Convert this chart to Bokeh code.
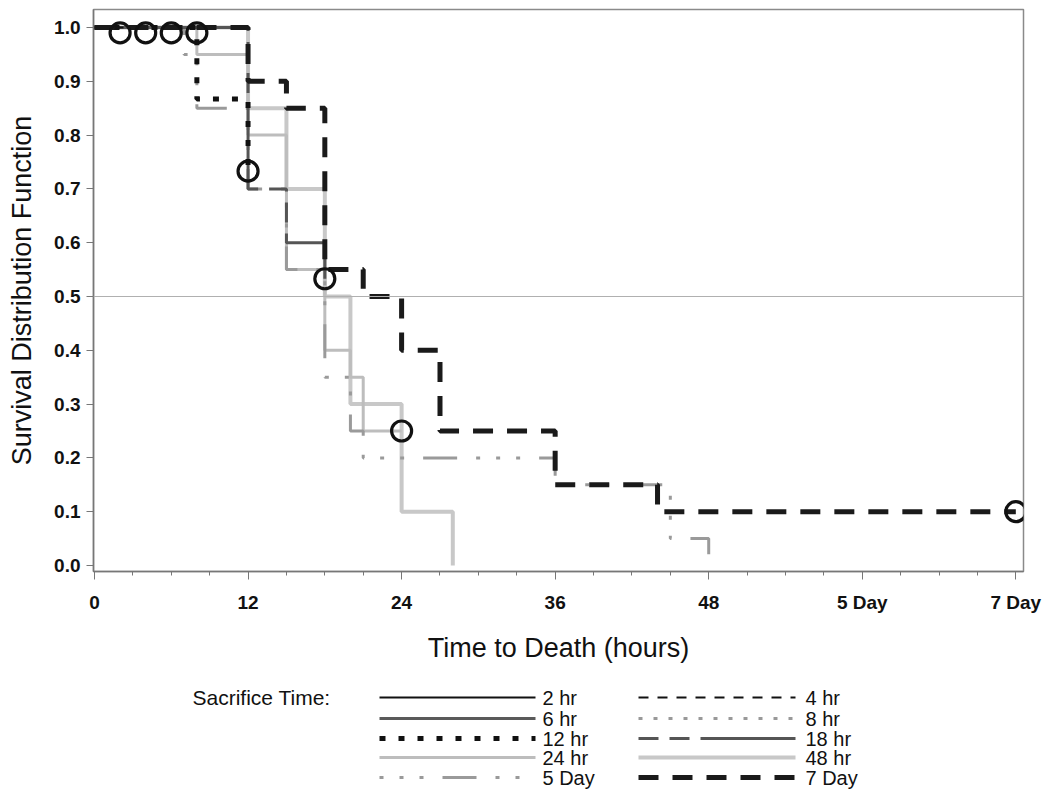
from bokeh.plotting import figure
from bokeh.models import FixedTicker, Span, PrintfTickFormatter
from bokeh.layouts import column
from bokeh.core.properties import value
from bokeh.embed import file_html
from bokeh.resources import INLINE

# ---------------- data ----------------
# x axis positions: hours up to 48; positions 60 / 72 stand for "5 Day" / "7 Day"
x_ticks = [0, 12, 24, 36, 48, 60, 72]
x_tick_labels = ["0", "12", "24", "36", "48", "5 Day", "7 Day"]
x_minor = [0, 3, 6, 9, 12, 15, 18, 21, 24, 27, 30, 33, 36, 39, 42, 45, 48,
           51, 54, 57, 60, 63, 66, 69, 72]
y_ticks = [0.0, 0.1, 0.2, 0.3, 0.4, 0.5, 0.6, 0.7, 0.8, 0.9, 1.0]

groups = ["2 hr", "4 hr", "6 hr", "8 hr", "12 hr", "18 hr", "24 hr", "48 hr", "5 Day", "7 Day"]

t_2hr = [0, 2]
s_2hr = [1.0, 1.0]
t_4hr = [0, 4]
s_4hr = [1.0, 1.0]
t_6hr = [0, 6]
s_6hr = [1.0, 1.0]
t_8hr = [0, 8]
s_8hr = [1.0, 1.0]
t_12hr = [0, 8, 12]
s_12hr = [1.0, 0.867, 0.733]
t_18hr = [0, 12, 15, 18]
s_18hr = [1.0, 0.7, 0.6, 0.533]
t_24hr = [0, 8, 12, 15, 18, 20, 21, 24]
s_24hr = [1.0, 0.95, 0.8, 0.55, 0.4, 0.35, 0.25, 0.25]
t_48hr = [0, 12, 15, 18, 20, 24, 28]
s_48hr = [1.0, 0.85, 0.7, 0.5, 0.3, 0.1, 0.0]
t_5day = [0, 7, 8, 12, 15, 18, 20, 21, 36, 45, 48]
s_5day = [1.0, 0.95, 0.85, 0.7, 0.55, 0.35, 0.25, 0.2, 0.15, 0.05, 0.0]
t_7day = [0, 12, 15, 18, 21, 24, 27, 36, 44, 72]
s_7day = [1.0, 0.9, 0.85, 0.55, 0.5, 0.4, 0.25, 0.15, 0.1, 0.1]

# censored observations (open circles)
cens_t = [2, 4, 6, 8, 12, 18, 24, 72]
cens_s = [0.99, 0.99, 0.99, 0.99, 0.733, 0.533, 0.25, 0.1]

series = {
    "2 hr": (t_2hr, s_2hr), "4 hr": (t_4hr, s_4hr), "6 hr": (t_6hr, s_6hr),
    "8 hr": (t_8hr, s_8hr), "12 hr": (t_12hr, s_12hr), "18 hr": (t_18hr, s_18hr),
    "24 hr": (t_24hr, s_24hr), "48 hr": (t_48hr, s_48hr), "5 Day": (t_5day, s_5day),
    "7 Day": (t_7day, s_7day),
}

# ---------------- styles ----------------
styles = {
    "2 hr":  dict(line_color="#111111", line_width=2, line_dash="solid"),
    "4 hr":  dict(line_color="#111111", line_width=2, line_dash="10 9"),
    "6 hr":  dict(line_color="#5a5a5a", line_width=3, line_dash="solid"),
    "8 hr":  dict(line_color="#999999", line_width=3, line_dash="4 11"),
    "12 hr": dict(line_color="#111111", line_width=5, line_dash="6 13"),
    "18 hr": dict(line_color="#555555", line_width=3, line_dash="20 11 20 11 95 11"),
    "24 hr": dict(line_color="#bdbdbd", line_width=3, line_dash="solid"),
    "48 hr": dict(line_color="#c8c8c8", line_width=4, line_dash="solid"),
    "5 Day": dict(line_color="#9a9a9a", line_width=3, line_dash="4 16 4 16 4 19 34 19"),
    "7 Day": dict(line_color="#1a1a1a", line_width=5, line_dash="20 14"),
}
draw_order = ["48 hr", "24 hr", "5 Day", "8 hr", "18 hr", "6 hr", "12 hr", "4 hr", "2 hr", "7 Day"]

FONT = "Liberation Sans"
BL, BR = 93, 19   # left / right borders shared by both panels

# ---------------- main plot ----------------
p = figure(width=1042, height=672, x_range=(-0.078, 72.6), y_range=(-0.0112, 1.0335),
           output_backend="svg", toolbar_location=None,
           min_border_left=BL, min_border_right=BR, min_border_top=9, min_border_bottom=101)
p.xgrid.visible = False
p.ygrid.visible = False
p.outline_line_color = "#8a8a8a"
p.outline_line_width = 1.5
p.background_fill_color = "white"
p.border_fill_color = "white"

p.add_layout(Span(location=0.5, dimension="width", line_color="#b0b0b0", line_width=1.2))

for g in draw_order:
    tx, sy = series[g]
    p.step(tx, sy, mode="after", **styles[g])

p.scatter(cens_t, cens_s, marker="circle", size=20, fill_color=None,
          line_color="#111111", line_width=3.2)

# axes
p.xaxis.ticker = FixedTicker(ticks=x_ticks, minor_ticks=x_minor)
p.xaxis.major_label_overrides = {t: l for t, l in zip(x_ticks, x_tick_labels)}
p.yaxis.ticker = FixedTicker(ticks=y_ticks, minor_ticks=[])
p.yaxis.formatter = PrintfTickFormatter(format="%.1f")

for ax in (p.xaxis, p.yaxis):
    ax.axis_line_color = "#777777"
    ax.axis_line_width = 1.5
    ax.major_tick_line_color = "#777777"
    ax.minor_tick_line_color = "#777777"
    ax.major_tick_in = 0
    ax.minor_tick_in = 0
    ax.major_label_text_font = FONT
    ax.major_label_text_font_style = "bold"
    ax.major_label_text_font_size = "19px"
    ax.major_label_text_color = "#111111"
    ax.axis_label_text_font = FONT
    ax.axis_label_text_font_style = "normal"
    ax.axis_label_text_font_size = "27px"
    ax.axis_label_text_color = "#111111"

p.xaxis.major_tick_out = 8
p.xaxis.minor_tick_out = 4
p.xaxis.major_label_standoff = 12
p.xaxis.axis_label = "Time to Death (hours)"
p.xaxis.axis_label_standoff = 17

p.yaxis.major_tick_out = 7
p.yaxis.major_label_standoff = 6
p.yaxis.axis_label = "Survival Distribution Function"
p.yaxis.axis_label_standoff = 14

# ---------------- legend panel ----------------
# frame uses the same borders as the main plot; x coordinates are page pixels
leg = figure(width=1042, height=117, x_range=(BL, 1042 - BR), y_range=(117, 0),
             output_backend="svg", toolbar_location=None,
             min_border_left=BL, min_border_right=BR,
             min_border_top=0, min_border_bottom=0)
leg.axis.visible = False
leg.xgrid.visible = False
leg.ygrid.visible = False
leg.outline_line_color = None

leg.text(x=[192], y=[25], text=["Sacrifice Time:"], text_font=value(FONT),
         text_font_size="21px", text_baseline="middle", text_align="left",
         text_color="#111111")

col_x0 = [379, 638]
col_x1 = [535, 795]
lab_x = [542, 805]
row_y = [25, 46, 66, 85, 105]
for i, g in enumerate(groups):
    c = i % 2
    r = i // 2
    st = dict(styles[g])
    leg.line([col_x0[c], col_x1[c]], [row_y[r], row_y[r]], **st)
    leg.text(x=[lab_x[c]], y=[row_y[r]], text=[g], text_font=value(FONT),
             text_font_size="20px", text_baseline="middle", text_align="left",
             text_color="#111111")

layout = column(p, leg, spacing=0)
open("out.html", "w").write(file_html(layout, INLINE))
